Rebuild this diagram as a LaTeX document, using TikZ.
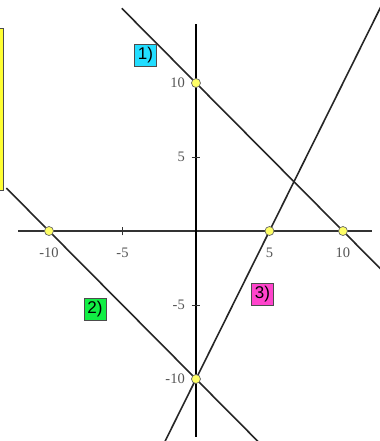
\documentclass[tikz,border=0pt]{standalone}
\usepackage{fontspec}
\setmainfont{Liberation Serif}
\newfontfamily\labfont{Liberation Sans}
\definecolor{axisgray}{HTML}{333333}
\definecolor{ticktext}{HTML}{555555}
\definecolor{ptyellow}{HTML}{FFFF66}
\definecolor{boxyellow}{HTML}{FFFF33}
\definecolor{cyanlab}{HTML}{22DDFF}
\definecolor{greenlab}{HTML}{11EE44}
\definecolor{magentalab}{HTML}{FF44CC}
\tikzset{
  axisline/.style={line width=1.3pt, draw=axisgray},
  graphline/.style={line width=1.6pt, draw=black!85},
  tickmark/.style={line width=1pt, draw=axisgray},
  ticklab/.style={text=ticktext, font=\fontsize{14.5}{16}\selectfont, inner sep=0pt},
  pt/.style={circle, draw=black!60, fill=ptyellow, line width=0.7pt, minimum size=9pt, inner sep=0pt},
  eqlab/.style={draw=black!70, line width=0.8pt, minimum width=22pt, minimum height=22pt, inner sep=0pt, font=\labfont\fontsize{17}{19}\selectfont}
}
\begin{document}
\begin{tikzpicture}[x=14.7pt,y=14.8pt]
\useasboundingbox (-13.333,-14.19) rectangle (12.517,15.61);
\clip (-13.333,-14.19) rectangle (12.517,15.61);
% yellow box at left
\draw[fill=boxyellow, draw=black!70, line width=0.8pt] (-14,13.72) rectangle (-13.13,2.77);
% axes
\coordinate (xl) at (-12.1,0);
\coordinate (xr) at (12.0,0);
\coordinate (yb) at (0,-13.9);
\coordinate (yt) at (0,14);
\draw[axisline] (xl) -- (xr);
\draw[axisline, draw=black] (yb) -- (yt);
% ticks and labels
\foreach \v/\t in {-10/-10,-5/-5,5/5,10/10}{
  \draw[tickmark] (\v,-0.3) -- (\v,0.3);
  \node[ticklab] (xt\t) at (\v,-1.45) {\t};
  \draw[tickmark] (-0.3,\v) -- (0.3,\v);
  \node[ticklab, anchor=east] (yt\t) at (-0.75,\v) {\t};
}
% lines
\coordinate (a1) at (-5.05,15.05);
\coordinate (b1) at (13,-3);
\coordinate (a2) at (-12.9,2.9);
\coordinate (b2) at (5,-15);
\coordinate (a3) at (-2.5,-15);
\coordinate (b3) at (13,16);
\draw[graphline] (a1) -- (b1);
\draw[graphline] (a2) -- (b2);
\draw[graphline] (a3) -- (b3);
% points
\node[pt] (p1) at (0,10) {};
\node[pt] (p2) at (-10,0) {};
\node[pt] (p3) at (5,0) {};
\node[pt] (p4) at (10,0) {};
\node[pt] (p5) at (0,-10) {};
% labels
\node[eqlab, fill=cyanlab] (l1) at (-3.44,11.86) {1)};
\node[eqlab, fill=greenlab] (l2) at (-6.87,-5.27) {2)};
\node[eqlab, fill=magentalab] (l3) at (4.52,-4.26) {3)};
\end{tikzpicture}
\end{document}
